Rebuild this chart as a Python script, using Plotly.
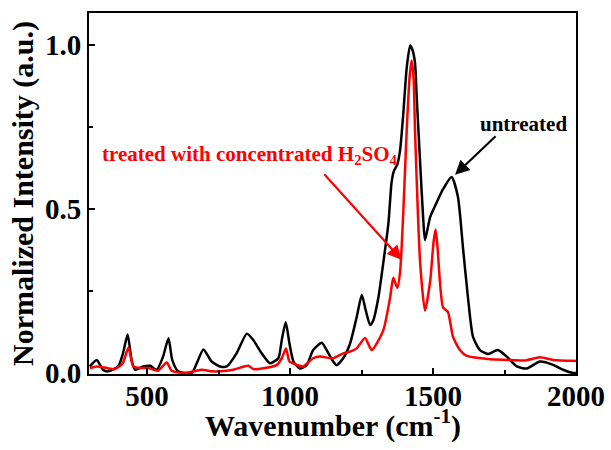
import plotly.graph_objects as go

# Wavenumber (cm^-1) and normalized intensity, untreated
untreated_x = [300, 324, 346, 364, 399, 416, 432, 446, 458, 486, 511, 534, 556, 575, 588, 609, 656, 674, 697,
               726, 755, 779, 813, 849, 872, 901, 930, 959, 971, 985, 998, 1012, 1035, 1058, 1081, 1111, 1128,
               1151, 1163, 1186, 1210, 1233, 1251, 1265, 1280, 1291, 1309, 1326, 1344, 1355, 1363, 1375, 1385,
               1396, 1408, 1420, 1428, 1437, 1443, 1455, 1466, 1472, 1490, 1513, 1535, 1565, 1587, 1605, 1622,
               1640, 1664, 1692, 1727, 1758, 1793, 1828, 1874, 1920, 1955, 1990, 2000]
untreated_y = [0.02, 0.04, 0.01, 0.005, 0.02, 0.06, 0.117, 0.04, 0.01, 0.02, 0.022, 0.01, 0.05, 0.106, 0.04, 0.005,
               0.0, 0.03, 0.072, 0.035, 0.02, 0.02, 0.06, 0.12, 0.1, 0.06, 0.03, 0.045, 0.1, 0.155, 0.09, 0.035,
               0.014, 0.024, 0.07, 0.092, 0.07, 0.035, 0.024, 0.045, 0.09, 0.17, 0.238, 0.19, 0.146, 0.16, 0.23,
               0.335, 0.456, 0.58, 0.615, 0.635, 0.68, 0.79, 0.93, 0.998, 0.985, 0.945, 0.84, 0.64, 0.466, 0.405,
               0.475, 0.52, 0.56, 0.597, 0.537, 0.38, 0.232, 0.11, 0.07, 0.058, 0.07, 0.05, 0.02, 0.014, 0.035,
               0.025, 0.01, 0.0, 0.0]

# treated with concentrated H2SO4
treated_x = [300, 324, 360, 388, 415, 435, 452, 480, 504, 538, 569, 586, 633, 691, 726, 755, 802, 854, 872, 953,
             971, 986, 998, 1023, 1046, 1081, 1105, 1151, 1186, 1210, 1233, 1262, 1286, 1326, 1350, 1361, 1375,
             1385, 1396, 1408, 1418, 1425, 1432, 1437, 1455, 1472, 1490, 1502, 1509, 1516, 1524, 1535, 1552,
             1570, 1594, 1618, 1640, 1700, 1758, 1820, 1874, 1920, 1990, 2000]
treated_y = [0.015, 0.02, 0.015, 0.012, 0.03, 0.078, 0.02, 0.015, 0.015, 0.007, 0.032, 0.007, 0.0, 0.01, 0.005,
             0.005, 0.01, 0.022, 0.012, 0.024, 0.045, 0.075, 0.035, 0.025, 0.02, 0.045, 0.05, 0.045, 0.06, 0.065,
             0.075, 0.107, 0.07, 0.13, 0.23, 0.29, 0.26, 0.31, 0.49, 0.74, 0.9, 0.952, 0.9, 0.74, 0.335, 0.19,
             0.28, 0.4, 0.437, 0.38, 0.28, 0.2, 0.186, 0.11, 0.07, 0.052, 0.048, 0.042, 0.04, 0.038, 0.048, 0.04,
             0.037, 0.037]

x_ticks = [500, 1000, 1500, 2000]
y_ticks = [0.0, 0.5, 1.0]
y_tick_labels = ["0.0", "0.5", "1.0"]

FONT = "Liberation Serif"

fig = go.Figure()
fig.add_trace(go.Scatter(x=untreated_x, y=untreated_y, mode="lines", name="untreated",
                         line=dict(color="black", width=2.5, shape="spline", smoothing=0.6)))
fig.add_trace(go.Scatter(x=treated_x, y=treated_y, mode="lines", name="treated",
                         line=dict(color="#ff0000", width=2.5, shape="spline", smoothing=0.6)))

fig.add_annotation(x=336, y=0.665, xref="x", yref="y", xanchor="left", yanchor="middle",
                   text="treated with concentrated H<sub>2</sub>SO<sub>4</sub>", showarrow=False,
                   font=dict(family=FONT, size=21, color="#ff0000", weight="bold"))
fig.add_annotation(x=1390, y=0.345, ax=1115, ay=0.61, xref="x", yref="y", axref="x", ayref="y",
                   text="", showarrow=True, arrowhead=2, arrowsize=1.3, arrowwidth=2.2, arrowcolor="#ff0000")
fig.add_annotation(x=1815, y=0.76, xref="x", yref="y", text="untreated", showarrow=False,
                   font=dict(family=FONT, size=21, color="black", weight="bold"))
fig.add_annotation(x=1577, y=0.604, ax=1724, ay=0.726, xref="x", yref="y", axref="x", ayref="y",
                   text="", showarrow=True, arrowhead=2, arrowsize=1.3, arrowwidth=2.2, arrowcolor="black")

# x-axis title
fig.add_annotation(x=0.5, y=0, xref="paper", yref="paper", yshift=-49, xanchor="center", yanchor="middle",
                   text="Wavenumber (cm<sup>-1</sup>)", showarrow=False,
                   font=dict(family=FONT, size=30, color="black", weight="bold"))

axis_common = dict(showline=True, linecolor="black", linewidth=2, mirror=True, ticks="inside",
                   ticklen=6, tickwidth=2, tickcolor="black", showgrid=False, zeroline=False,
                   automargin=False,
                   tickfont=dict(family=FONT, size=29, color="black", weight="bold"))

fig.update_xaxes(range=[297, 2000], tickvals=x_ticks, ticklabelstandoff=-5,
                 minor=dict(dtick=250, tick0=0, ticks="inside", ticklen=4, tickwidth=2, tickcolor="black"),
                 **axis_common)
fig.update_yaxes(range=[-0.003, 1.097], tickvals=y_ticks, ticktext=y_tick_labels,
                 title=dict(text="Normalized Intensity (a.u.)",
                            font=dict(family=FONT, size=30, color="black", weight="bold"), standoff=2),
                 minor=dict(dtick=0.25, tick0=0, ticks="inside", ticklen=4, tickwidth=2, tickcolor="black"),
                 **axis_common)

fig.update_layout(width=611, height=450, margin=dict(l=89, r=35, t=13, b=76),
                  plot_bgcolor="white", paper_bgcolor="white", showlegend=False)

fig.write_html("out.html")
